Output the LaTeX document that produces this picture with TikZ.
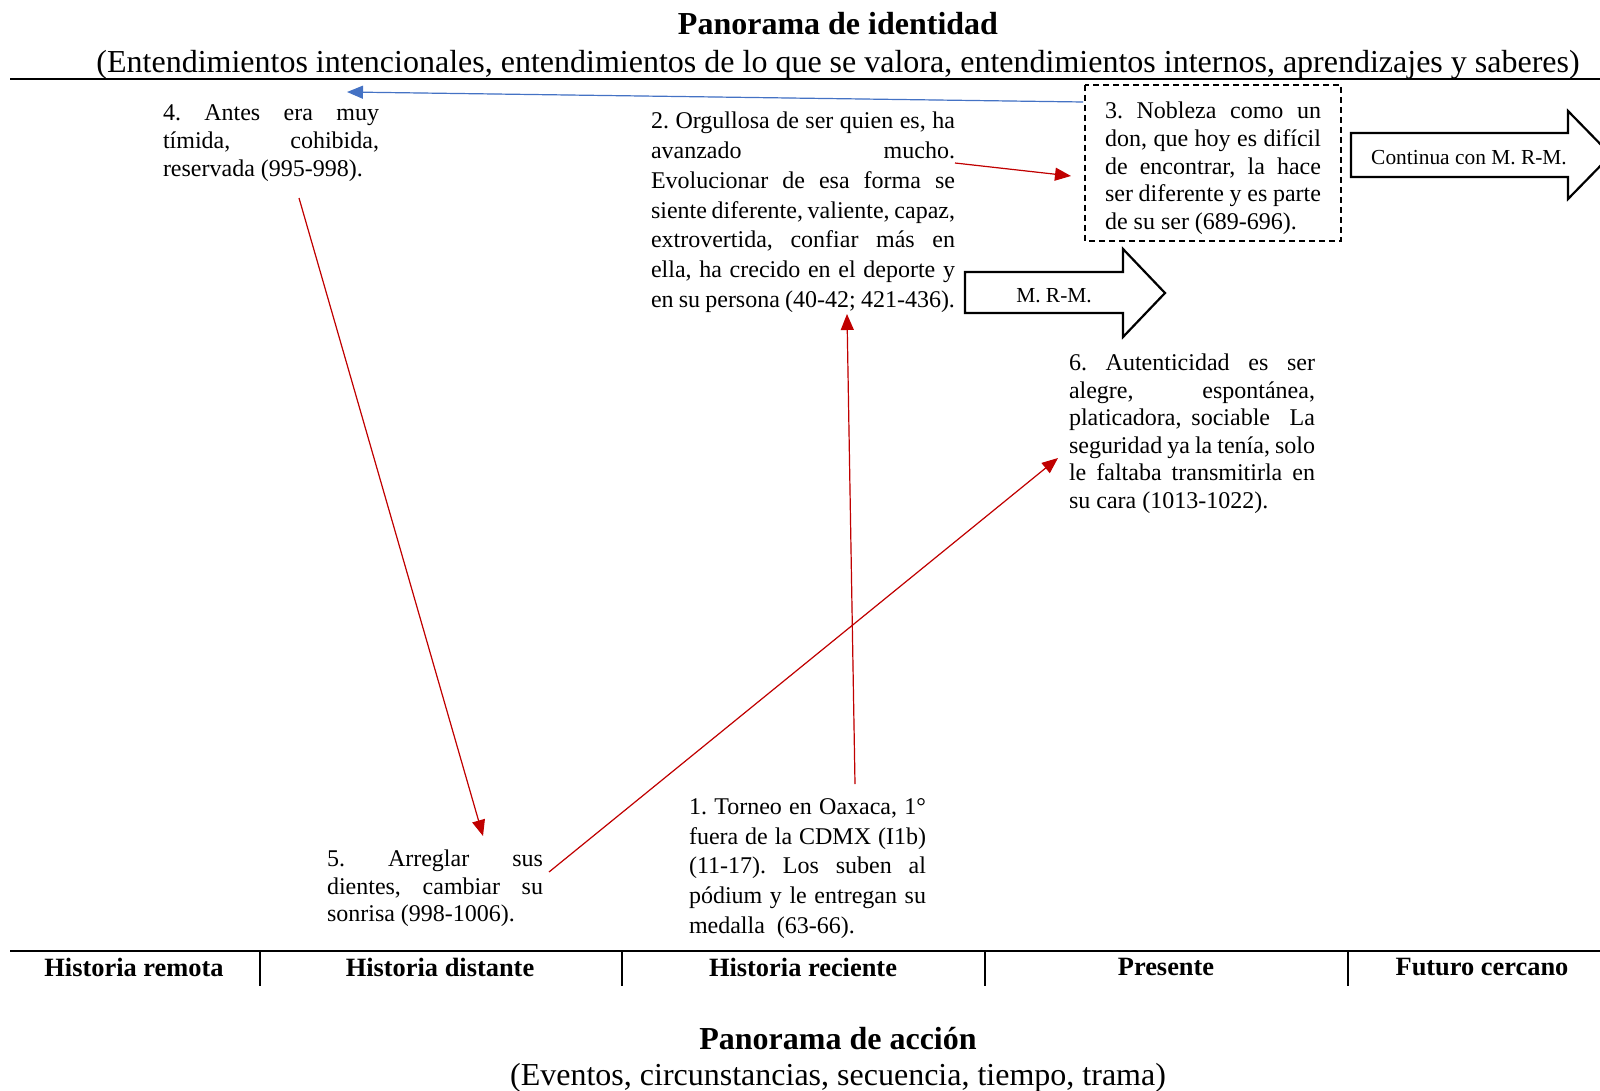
\documentclass[tikz,border=0pt]{standalone}
\usepackage{fontspec}
\setmainfont{Liberation Serif}
\usetikzlibrary{arrows.meta}
\hyphenpenalty=10000
\exhyphenpenalty=10000
\tolerance=10000
\frenchspacing
\definecolor{linkred}{HTML}{C00000}
\definecolor{linkblue}{HTML}{4472C4}
\begin{document}
\begin{tikzpicture}[x=0.5pt,y=-0.5pt,
  every node/.style={inner sep=0pt, outer sep=0pt},
  para/.style={anchor=base west, align=justify, font=\fontsize{12}{13.8}\selectfont},
  paraw/.style={anchor=base west, align=justify, font=\fontsize{12}{14.85}\selectfont},
  heading/.style={font=\bfseries\fontsize{16}{18}\selectfont},
  subheading/.style={font=\fontsize{16}{18}\selectfont},
  era/.style={font=\bfseries\fontsize{13.2}{15}\selectfont},
  link/.style={draw=linkred, line width=0.6pt, -{Triangle[length=8pt,width=6.5pt]}, fill=linkred},
  bluelink/.style={draw=linkblue, line width=0.6pt, -{Triangle[length=8pt,width=6.5pt]}, fill=linkblue},
  bigarrow/.style={draw=black, line width=1.1pt, fill=white, line join=miter},
  arrowtext/.style={font=\fontsize{10.7}{12}\selectfont},
  rule/.style={line width=1pt},
  divider/.style={line width=0.8pt},
]
\useasboundingbox (0,0) rectangle (1600,1091);

% identity landscape header
\node[heading] (idtitle) at (838,24) {Panorama de identidad};
\node[subheading] (idsub) at (838,65) {(Entendimientos intencionales, entendimientos de lo que se valora, entendimientos internos, aprendizajes y saberes)};
\draw[rule] (10,79) -- (1600,79);

% event texts
\node[para, text width=108pt] (t4) at (163,121)
  {4. Antes era muy\linebreak tímida, cohibida,\linebreak reservada (995-998).};

\node[paraw, text width=152pt] (t2) at (651,129)
  {2. Orgullosa de ser quien es, ha\linebreak avanzado mucho.\linebreak Evolucionar de esa forma se\linebreak siente diferente, valiente, capaz,\linebreak extrovertida, confiar más en\linebreak ella, ha crecido en el deporte y\linebreak en su persona (40-42; 421-436).};

\node[para, text width=108pt] (t3) at (1105,119)
  {3. Nobleza como un\linebreak don, que hoy es difícil\linebreak de encontrar, la hace\linebreak ser diferente y es parte\linebreak de su ser (689-696).};
\draw[line width=0.6pt, dash pattern=on 3pt off 2pt] (1085,85) rectangle (1341,241);

\node[para, text width=123pt] (t6) at (1069,370.5)
  {6. Autenticidad es ser\linebreak alegre, espontánea,\linebreak platicadora, sociable\ \ La\linebreak seguridad ya la tenía, solo\linebreak le faltaba transmitirla en\linebreak su cara (1013-1022).};

\node[para, text width=108pt] (t5) at (327,866.5)
  {5. Arreglar sus\linebreak dientes, cambiar su\linebreak sonrisa (998-1006).};

\node[paraw, text width=118.5pt] (t1) at (689,814.5)
  {1. Torneo en Oaxaca, 1°\linebreak fuera de la CDMX (I1b)\linebreak (11-17). Los suben al\linebreak pódium y le entregan su\linebreak medalla\ \ (63-66).};

% continuation arrows
\draw[bigarrow] (965,272) -- (1123,272) -- (1123,249) -- (1165,293) -- (1123,337) -- (1123,313) -- (965,313) -- cycle;
\node[arrowtext] (mrm) at (1054,296) {M. R-M.};
\draw[bigarrow] (1351,133) -- (1568,133) -- (1568,111) -- (1611,155) -- (1568,199) -- (1568,177) -- (1351,177) -- cycle;
\node[arrowtext] (cont) at (1469,158) {Continua con M. R-M.};

% connector end points
\coordinate (c4a) at (299,198);
\coordinate (c5a) at (483,836);
\coordinate (c5b) at (549,872);
\coordinate (c6a) at (1058,458);
\coordinate (c1a) at (855,784);
\coordinate (c2a) at (847,314);
\coordinate (c2b) at (955,163);
\coordinate (c3a) at (1071,176);
\coordinate (c3b) at (1083,102);
\coordinate (c4b) at (347,92);

\draw[link] (c4a) -- (c5a);
\draw[link] (c5b) -- (c6a);
\draw[link] (c1a) -- (c2a);
\draw[link] (c2b) -- (c3a);
\draw[bluelink] (c3b) -- (c4b);

% time axis
\draw[rule] (10,951) -- (1600,951);
\foreach \x in {260,622,985,1348} \draw[divider] (\x,951) -- (\x,986);
\node[era] (e1) at (134,967) {Historia remota};
\node[era] (e2) at (440,967) {Historia distante};
\node[era] (e3) at (803,967) {Historia reciente};
\node[era] (e4) at (1166,967) {Presente};
\node[era] (e5) at (1482,967) {Futuro cercano};

% action landscape footer
\node[heading] (actitle) at (838,1039) {Panorama de acción};
\node[subheading] (acsub) at (838,1078) {(Eventos, circunstancias, secuencia, tiempo, trama)};
\end{tikzpicture}
\end{document}
